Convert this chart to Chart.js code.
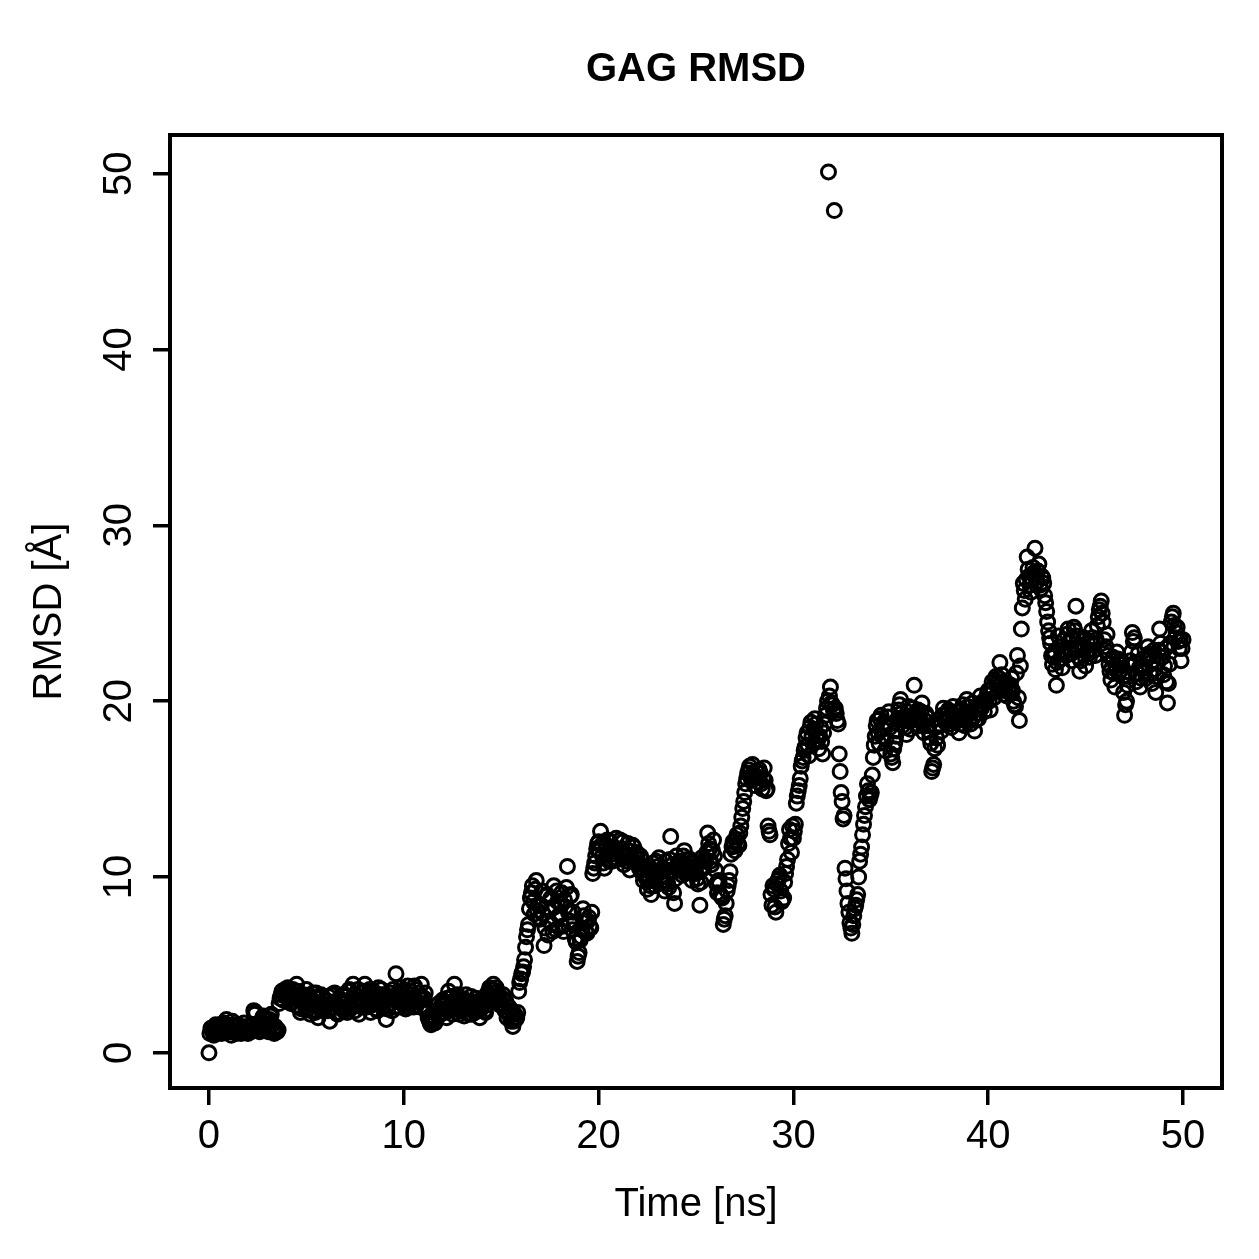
<!DOCTYPE html>
<html>
<head>
<meta charset="utf-8">
<script src="https://cdn.jsdelivr.net/npm/chart.js@4.4.0/dist/chart.umd.min.js"></script>
<style>
  html, body { margin: 0; padding: 0; background: #ffffff; }
  #wrap { width: 1259px; height: 1259px; }
</style>
</head>
<body>
<div id="wrap"><canvas id="myChart" width="1259" height="1259"></canvas></div>
<script>
// RMSD: frames on the 0.1 ns grid (0.0, 0.1, ... 50.0), one row per ns
const rmsdWhole = [
  0.0, 1.4, 1.2, 1.5, 1.1, 1.3, 1.6, 1.2, 1.4, 1.9,
  1.5, 1.2, 1.8, 1.3, 1.1, 1.6, 1.4, 1.2, 1.7, 1.3,
  1.1, 1.5, 1.3, 2.4, 2.3, 1.5, 1.2, 1.8, 2.1, 1.6,
  1.4, 1.9, 2.2, 1.3, 1.5, 1.2, 2.8, 3.3, 3.0, 3.6,
  3.5, 3.2, 2.8, 3.6, 3.3, 3.9, 2.6, 2.3, 3.1, 2.9,
  3.6, 2.5, 2.2, 3.0, 2.7, 3.4, 2.0, 2.8, 3.2, 2.5,
  3.0, 2.4, 1.8, 3.3, 2.6, 2.9, 2.2, 3.1, 2.5, 2.8,
  3.2, 2.3, 3.6, 2.7, 3.9, 2.4, 3.0, 2.2, 3.4, 2.8,
  3.9, 2.6, 3.1, 2.3, 3.5, 2.9, 2.5, 3.7, 2.8, 3.3,
  3.0, 1.9, 2.7, 3.4, 2.4, 3.2, 4.5, 2.9, 2.6, 3.5,
  3.1, 2.5, 3.8, 2.8, 3.3, 2.6, 3.6, 2.9, 3.2, 3.9,
  2.7, 3.4, 2.3, 1.9, 1.6, 2.1, 1.7, 2.4, 2.8, 2.2,
  3.0, 2.5, 2.0, 3.5, 2.7, 2.2, 3.9, 2.6, 3.1, 2.4,
  2.8, 2.1, 3.3, 2.5, 2.9, 2.2, 2.7, 3.1, 2.4, 2.0,
  2.6, 3.0, 2.3, 3.4, 3.7, 3.1, 3.9, 2.9, 3.5, 3.2,
  2.8, 3.3, 2.4, 2.0, 2.6, 1.8, 1.5, 2.2, 2.0, 3.5,
  4.2, 4.6, 5.3, 6.6, 7.3, 8.8, 9.5, 7.9, 9.8, 8.4,
  7.6, 9.2, 6.1, 8.9, 6.7, 8.1, 7.3, 9.5, 7.0, 8.6,
  7.8, 9.1, 6.9, 8.3, 10.6, 7.5, 9.0, 8.0, 6.5, 5.2,
  5.7, 6.6, 8.2, 7.4, 6.8, 7.7, 7.1, 10.2, 10.8, 11.6,
  12.0, 12.6, 11.2, 10.5, 11.8, 11.4, 12.0, 10.9, 11.5, 12.2,
  11.0, 12.1, 11.6, 10.7, 11.3, 11.9, 10.4, 11.1, 11.7, 10.8,
  11.3, 10.5, 11.0, 9.8, 10.6, 9.3, 9.9, 9.0, 10.8, 9.5,
  10.2, 11.1, 9.7, 10.5, 9.2, 10.0, 9.4, 12.3, 10.7, 8.5,
  11.2, 10.4, 10.9, 10.1, 11.5, 10.6, 10.3, 11.0, 9.8, 10.8,
  10.2, 9.6, 8.4, 11.1, 10.5, 10.9, 12.5, 11.6, 10.7, 12.1,
  10.4, 9.1, 9.6, 8.9, 7.3, 7.8, 9.2, 9.8, 11.3, 12.0,
  11.5, 12.4, 11.8, 12.9, 13.9, 14.8, 15.6, 16.1, 15.7, 16.4,
  15.2, 16.0, 15.4, 15.9, 15.0, 16.2, 14.9, 12.9, 12.4, 8.4,
  9.3, 8.0, 9.8, 10.1, 8.6, 8.8, 10.2, 11.0, 12.7, 11.4,
  12.2, 13.0, 14.6, 15.2, 16.3, 16.8, 17.4, 18.2, 16.9, 18.8,
  17.6, 19.0, 18.1, 17.3, 18.5, 17.0, 18.7, 19.6, 50.1, 20.8,
  19.8, 47.9, 19.3, 18.7, 16.0, 14.3, 13.5, 9.9, 8.5, 7.4,
  6.8, 7.8, 8.4, 9.0, 10.9, 11.7, 13.0, 14.0, 15.3, 14.4,
  14.8, 16.8, 18.0, 18.9, 17.6, 19.2, 18.4, 17.2, 18.7, 19.4,
  17.0, 16.5, 17.6, 18.3, 19.5, 20.1, 18.6, 19.1, 18.1, 19.7,
  18.4, 19.2, 20.9, 18.7, 19.5, 18.9, 19.9, 18.2, 19.3, 18.6,
  17.9, 16.0, 16.4, 18.5, 17.5, 19.0, 18.3, 19.6, 18.8, 19.3,
  19.0, 18.5, 19.7, 18.8, 19.4, 18.2, 19.1, 19.8, 18.6, 20.1,
  19.3, 18.7, 19.9, 18.3, 19.6, 19.0, 20.3, 19.8, 19.4, 20.1,
  20.6, 19.5, 21.1, 20.2, 21.4, 20.8, 22.2, 21.5, 20.4, 20.9,
  21.0, 20.5, 21.3, 20.0, 19.7, 22.6, 18.9, 24.1, 26.7, 25.8,
  28.2, 27.1, 26.2, 27.6, 28.7, 26.8, 27.8, 26.4, 27.0, 26.0,
  25.1, 24.0, 23.3, 22.1, 22.8, 20.9, 23.7, 22.4, 21.9, 23.5,
  22.6, 24.1, 23.0, 22.3, 24.2, 25.4, 23.1, 21.7, 22.9, 23.6,
  22.0, 23.3, 22.5, 24.0, 23.2, 22.6, 24.3, 25.2, 25.7, 24.5,
  22.9, 23.8, 22.1, 21.2, 22.5, 20.8, 22.8, 21.6, 22.3, 21.4,
  19.2, 20.0, 21.4, 22.3, 23.9, 23.6, 21.1, 22.7, 20.8, 21.9,
  22.4, 21.3, 23.1, 22.6, 21.0, 22.9, 20.5, 22.2, 24.1, 22.8,
  21.5, 23.0, 19.9, 22.1, 24.5, 25.0, 23.6, 24.2, 23.0, 22.3,
  23.5
];
// frames in between (0.05, 0.15, ... 49.95), one row per ns
const rmsdHalf = [
  1.1, 1.3, 1.0, 1.6, 1.2, 1.5, 1.1, 1.7, 1.3, 1.2,
  1.4, 1.0, 1.6, 1.2, 1.5, 1.3, 1.1, 1.4, 1.2, 1.5,
  1.3, 1.2, 1.6, 2.2, 1.4, 1.7, 1.3, 2.0, 1.5, 1.9,
  1.2, 2.1, 1.6, 1.1, 1.4, 1.3, 3.1, 3.5, 3.4, 3.2,
  3.7, 3.0, 3.4, 3.1, 2.7, 3.5, 3.0, 2.5, 3.3, 2.6,
  3.2, 2.9, 2.4, 3.4, 2.3, 3.1, 2.6, 3.3, 2.4, 3.0,
  2.7, 3.2, 2.5, 2.8, 3.4, 2.3, 3.0, 2.6, 3.3, 2.4,
  2.9, 3.5, 2.5, 3.1, 3.3, 2.7, 3.6, 2.9, 2.6, 3.5,
  3.2, 2.8, 3.6, 2.7, 3.0, 3.4, 2.4, 3.1, 3.6, 2.6,
  3.3, 2.5, 3.1, 2.8, 3.6, 2.6, 3.3, 3.0, 3.7, 2.8,
  2.9, 3.4, 2.6, 3.5, 3.0, 3.8, 2.7, 3.4, 2.6, 3.0,
  3.1, 2.5, 2.0, 1.7, 1.8, 1.9, 2.3, 2.1, 2.5, 2.7,
  2.3, 2.8, 3.1, 2.4, 3.2, 2.9, 2.5, 3.3, 2.2, 2.8,
  2.5, 3.0, 2.7, 2.2, 3.2, 2.6, 2.3, 2.9, 2.7, 2.5,
  2.9, 2.4, 2.7, 3.1, 3.3, 3.6, 3.4, 3.7, 3.0, 2.7,
  3.1, 2.6, 2.9, 2.3, 2.1, 2.4, 1.8, 1.9, 2.3, 4.0,
  4.5, 4.9, 6.0, 7.0, 8.2, 9.1, 8.6, 9.3, 8.1, 7.7,
  8.4, 7.9, 7.1, 9.0, 7.5, 8.8, 6.9, 8.3, 9.2, 7.8,
  8.5, 7.2, 8.7, 9.4, 8.0, 8.9, 7.0, 7.4, 6.3, 5.5,
  6.4, 7.0, 7.8, 6.9, 7.5, 7.2, 8.0, 10.5, 11.2, 11.9,
  11.5, 11.8, 10.8, 11.6, 12.1, 10.9, 11.3, 11.7, 11.0, 11.6,
  11.5, 11.3, 12.0, 11.2, 10.9, 11.5, 11.0, 11.8, 11.2, 11.4,
  10.8, 11.2, 10.2, 10.4, 9.9, 10.1, 9.5, 10.3, 10.0, 10.9,
  10.6, 10.3, 10.0, 9.8, 10.9, 9.6, 11.0, 10.4, 9.1, 9.9,
  10.7, 10.9, 10.5, 11.2, 10.2, 11.0, 10.6, 10.4, 10.9, 10.3,
  9.9, 10.8, 9.7, 10.6, 11.0, 11.4, 11.9, 10.9, 11.5, 11.2,
  9.6, 9.8, 9.0, 8.8, 7.6, 8.5, 9.5, 10.3, 11.7, 11.8,
  12.1, 11.9, 12.5, 13.4, 14.3, 15.3, 15.9, 16.3, 15.5, 15.8,
  15.6, 15.7, 16.1, 15.3, 15.6, 15.5, 15.0, 12.6, 9.0, 9.5,
  8.3, 9.6, 9.9, 9.2, 8.7, 9.7, 10.6, 11.9, 12.2, 12.9,
  12.6, 14.2, 14.9, 15.6, 16.6, 17.2, 17.9, 17.5, 18.5, 18.0,
  18.4, 18.7, 17.8, 18.0, 17.7, 18.2, 19.2, 20.0, 20.3, 19.9,
  19.5, 19.6, 18.9, 17.0, 14.8, 13.3, 10.5, 9.2, 8.0, 7.1,
  7.3, 8.2, 8.7, 10.0, 11.3, 12.4, 13.5, 14.6, 14.9, 14.6,
  15.8, 17.5, 18.6, 18.2, 19.0, 18.0, 18.8, 17.8, 19.1, 18.5,
  16.8, 17.3, 18.0, 19.0, 19.8, 19.3, 18.9, 18.5, 19.4, 19.0,
  18.9, 19.6, 19.0, 19.3, 18.6, 19.4, 18.7, 18.9, 19.1, 18.3,
  17.6, 16.2, 17.3, 17.9, 18.7, 18.6, 19.2, 19.0, 18.9, 19.5,
  18.7, 19.3, 19.2, 19.0, 18.9, 18.7, 19.5, 19.2, 19.4, 19.7,
  19.0, 19.4, 19.1, 18.9, 19.3, 19.7, 19.6, 20.0, 19.9, 20.4,
  20.0, 20.7, 20.5, 21.2, 21.0, 21.3, 21.0, 20.7, 20.6, 20.3,
  20.7, 20.9, 20.6, 19.8, 21.6, 20.2, 22.0, 25.3, 26.3, 26.9,
  27.5, 26.6, 26.9, 27.3, 27.2, 27.4, 26.6, 27.1, 26.7, 25.6,
  24.5, 23.6, 22.6, 22.5, 21.8, 22.2, 23.1, 22.9, 22.7, 22.8,
  23.8, 23.4, 22.7, 23.6, 24.0, 23.7, 22.5, 22.3, 23.2, 23.0,
  22.8, 22.7, 23.4, 23.6, 22.9, 23.5, 24.8, 25.4, 25.0, 23.5,
  23.1, 22.6, 21.7, 21.9, 21.6, 22.0, 22.4, 22.1, 21.8, 20.5,
  19.8, 20.9, 22.0, 22.8, 23.4, 22.2, 21.6, 21.9, 21.3, 22.4,
  21.9, 22.5, 22.7, 21.5, 22.3, 21.8, 21.4, 22.9, 23.3, 22.5,
  22.0, 21.1, 21.0, 23.3, 24.8, 24.3, 23.9, 23.4, 23.5, 23.0
];
const frameStep = 0.05; // ns between saved frames
const xTicks = [0, 10, 20, 30, 40, 50];
const yTicks = [0, 10, 20, 30, 40, 50];

// interleave the two readings back into frame order
const rmsd = [];
rmsdWhole.forEach((v, i) => {
  rmsd.push(v);
  if (i < rmsdHalf.length) rmsd.push(rmsdHalf[i]);
});
const points = rmsd.map((v, i) => ({ x: +(i * frameStep).toFixed(2), y: v }));

Chart.defaults.font.family = '"Liberation Sans", Arial, sans-serif';
Chart.defaults.color = '#000';
Chart.defaults.elements.point.radius = 7;
Chart.defaults.elements.point.borderWidth = 3;

// R-style box around the plot region + rotated y tick labels
const rStyle = {
  id: 'rStyle',
  afterDraw(chart) {
    const { ctx, chartArea: a } = chart;
    ctx.save();
    ctx.strokeStyle = '#000';
    ctx.lineWidth = 4;
    ctx.strokeRect(a.left, a.top, a.right - a.left, a.bottom - a.top);

    const ys = chart.scales.y;
    ctx.fillStyle = '#000';
    ctx.font = '40px "Liberation Sans", Arial, sans-serif';
    ctx.textAlign = 'center';
    ctx.textBaseline = 'middle';
    yTicks.forEach(v => {
      ctx.save();
      ctx.translate(120, ys.getPixelForValue(v));
      ctx.rotate(-Math.PI / 2);
      ctx.fillText(String(v), 0, 0);
      ctx.restore();
    });
    ctx.restore();
  }
};

const ctx = document.getElementById('myChart').getContext('2d');
const myChart = new Chart(ctx, {
  type: 'scatter',
  data: {
    datasets: [{
      data: points,
      pointStyle: 'circle',
      radius: 7,
      pointRadius: 7,
      pointHoverRadius: 7,
      borderWidth: 3,
      pointBorderWidth: 3,
      pointBorderColor: '#000',
      pointBackgroundColor: 'rgba(0,0,0,0)',
      borderColor: '#000',
      backgroundColor: 'rgba(0,0,0,0)'
    }]
  },
  options: {
    responsive: false,
    animation: false,
    layout: { padding: { right: 37, left: 0, top: 0, bottom: 0 } },
    plugins: {
      legend: { display: false },
      tooltip: { enabled: false },
      title: {
        display: true,
        text: 'GAG RMSD',
        fullSize: false,
        color: '#000',
        font: { size: 40, weight: 'bold', lineHeight: 1.2 },
        padding: { top: 46, bottom: 41 }
      }
    },
    scales: {
      x: {
        type: 'linear',
        min: -2,
        max: 52,
        afterFit: s => { s.height = 171; },
        afterBuildTicks: s => { s.ticks = xTicks.map(v => ({ value: v })); },
        grid: { drawOnChartArea: false, drawTicks: true, tickLength: 17, tickColor: '#000', lineWidth: 3.5 },
        border: { display: false },
        ticks: { font: { size: 40 }, padding: 8, maxRotation: 0, color: '#000' },
        title: { display: true, text: 'Time [ns]', font: { size: 40, lineHeight: 1.2 }, padding: { top: 0, bottom: 30 }, color: '#000' }
      },
      y: {
        type: 'linear',
        min: -2.0,
        max: 52.2,
        afterFit: s => { s.width = 170; },
        afterBuildTicks: s => { s.ticks = yTicks.map(v => ({ value: v })); },
        grid: { drawOnChartArea: false, drawTicks: true, tickLength: 17, tickColor: '#000', lineWidth: 3.5 },
        border: { display: false },
        ticks: { display: false },
        title: { display: true, text: 'RMSD [Å]', font: { size: 40, lineHeight: 1.2 }, padding: { top: 26, bottom: 0 }, color: '#000' }
      }
    }
  },
  plugins: [rStyle]
});
</script>
</body>
</html>
